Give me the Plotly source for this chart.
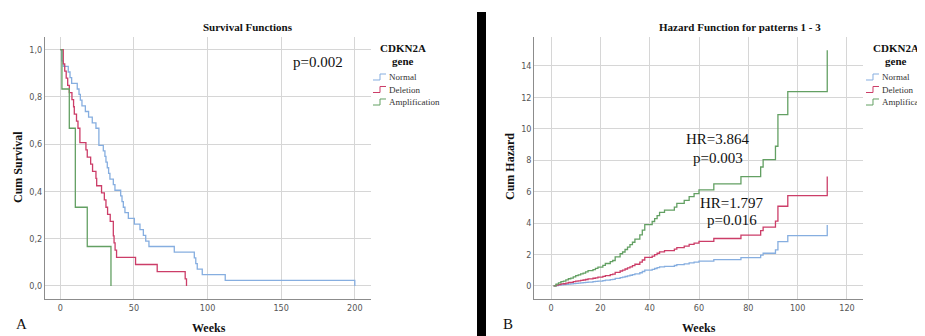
import plotly.graph_objects as go

# page offset of the figure (default body margin in the html page)
OFF = 8
W, H = 925 - OFF, 336 - OFF

# ---------------- Panel A: Kaplan-Meier survival (weeks, cum survival) ----------------
normal_weeks = [0, 1.1, 2.0, 5.4, 6.6, 7.7, 11.5, 12.7, 13.6, 14.7, 17.0, 19.2, 21.7, 24.2, 26.2,
                29.2, 30.3, 31.0, 31.9, 32.8, 33.7, 36.0, 37.1, 41.0, 41.9, 42.8, 43.9, 46.2, 50.3,
                54.1, 56.4, 58.0, 60.2, 77.4, 91.0, 92.0, 93.0, 96.4, 112.0, 200.0]
normal_surv = [1.0, 0.952, 0.929, 0.905, 0.881, 0.857, 0.833, 0.810, 0.786, 0.762, 0.738, 0.714, 0.690,
               0.667, 0.595, 0.571, 0.548, 0.524, 0.500, 0.476, 0.452, 0.429, 0.405, 0.381, 0.357,
               0.333, 0.310, 0.286, 0.262, 0.238, 0.214, 0.190, 0.167, 0.143, 0.119, 0.095, 0.071,
               0.048, 0.024, 0.0]

deletion_weeks = [0, 2.0, 3.0, 4.0, 5.0, 6.1, 7.9, 9.0, 9.5, 11.0, 12.0, 13.3, 17.4, 18.3, 20.6,
                  21.9, 24.2, 24.7, 28.0, 29.9, 31.0, 32.1, 33.9, 36.0, 36.5, 37.2, 38.2, 51.1,
                  65.8, 84.8, 85.7]
deletion_surv = [1.0, 0.939, 0.909, 0.879, 0.848, 0.818, 0.788, 0.758, 0.727, 0.697, 0.667, 0.606,
                 0.576, 0.545, 0.515, 0.485, 0.455, 0.424, 0.394, 0.364, 0.333, 0.303, 0.273,
                 0.212, 0.182, 0.152, 0.121, 0.091, 0.061, 0.030, 0.0]

amplif_weeks = [0, 1.1, 6.1, 10.2, 18.3, 34.4]
amplif_surv = [1.0, 0.833, 0.667, 0.333, 0.167, 0.0]

surv_xticks = [0, 50, 100, 150, 200]
surv_yticks = [0.0, 0.2, 0.4, 0.6, 0.8, 1.0]
surv_yticklabels = ["0,0", "0,2", "0,4", "0,6", "0,8", "1,0"]

# ---------------- Panel B: cumulative hazard (weeks, cum hazard) ----------------
haz_weeks = [1, 2, 3, 4, 5, 6, 7, 8, 9, 10, 11, 12, 13, 14, 15, 17, 18, 19, 21, 22, 24, 25, 26,
             28, 29, 30, 31, 32, 33, 34, 36, 37, 38, 41, 42, 43, 44, 46, 50, 51, 54, 56, 58, 60,
             66, 77, 85, 86, 91, 92, 96, 112]
haz_normal = [0, 0.03, 0.05, 0.07, 0.08, 0.10, 0.12, 0.13, 0.15, 0.17, 0.18, 0.20, 0.21, 0.23, 0.25,
              0.27, 0.29, 0.31, 0.34, 0.37, 0.40, 0.42, 0.48, 0.53, 0.56,
              0.60, 0.64, 0.68, 0.72, 0.77, 0.84, 0.92, 1.01,
              1.06, 1.11, 1.16, 1.21, 1.25, 1.30, 1.36, 1.41, 1.47, 1.52, 1.58, 1.68, 1.80, 1.96,
              2.08, 2.30, 2.82, 3.20, 3.88]
haz_deletion = [0, 0.05, 0.09, 0.13, 0.14, 0.18, 0.22, 0.23, 0.27, 0.31, 0.32, 0.36, 0.38, 0.41, 0.45,
                0.49, 0.52, 0.56, 0.61, 0.66, 0.72, 0.75, 0.86, 0.95, 1.01,
                1.08, 1.15, 1.22, 1.29, 1.38, 1.51, 1.65, 1.82,
                1.90, 1.99, 2.08, 2.17, 2.25, 2.34, 2.44, 2.53, 2.64, 2.73, 2.84, 3.02, 3.23, 3.52,
                3.74, 4.13, 5.07, 5.75, 6.97]
haz_amplif = [0, 0.12, 0.19, 0.27, 0.31, 0.39, 0.46, 0.50, 0.58, 0.66, 0.70, 0.77, 0.81, 0.89, 0.97,
              1.04, 1.12, 1.20, 1.31, 1.43, 1.55, 1.62, 1.85, 2.05, 2.16,
              2.32, 2.47, 2.63, 2.78, 2.98, 3.25, 3.55, 3.90,
              4.10, 4.29, 4.48, 4.68, 4.83, 5.02, 5.26, 5.45, 5.68, 5.87, 6.11, 6.49, 6.96, 7.57,
              8.04, 8.89, 10.90, 12.36, 14.99]

haz_xticks = [0, 20, 40, 60, 80, 100, 120]
haz_yticks = [0, 2, 4, 6, 8, 10, 12, 14]

group_names = ["Normal", "Deletion", "Amplification"]
group_colors = ["#86aee0", "#cc3d68", "#63a063"]

SERIF = "Liberation Serif, Times New Roman, serif"
NARROW = "Liberation Sans Narrow, Arial Narrow, DejaVu Sans Condensed, sans-serif"


def px(x):
    # page x pixel -> paper coordinate
    return (x - OFF) / W


def py(y):
    # page y pixel -> paper coordinate
    return 1 - (y - OFF) / H


fig = go.Figure()

surv_sets = [(normal_weeks, normal_surv), (deletion_weeks, deletion_surv), (amplif_weeks, amplif_surv)]
for (wk, s), name, col in zip(surv_sets, group_names, group_colors):
    fig.add_trace(go.Scatter(x=wk, y=s, mode="lines", line=dict(color=col, width=1.3, shape="hv"),
                             name=name, showlegend=False, xaxis="x", yaxis="y"))

haz_sets = [haz_normal, haz_deletion, haz_amplif]
for hz, name, col in zip(haz_sets, group_names, group_colors):
    fig.add_trace(go.Scatter(x=haz_weeks, y=hz, mode="lines", line=dict(color=col, width=1.3, shape="hv"),
                             name=name, showlegend=False, xaxis="x2", yaxis="y2"))

axis_common = dict(showline=True, linecolor="#8c8c8c", linewidth=1, showgrid=True, gridcolor="#d6d6d6",
                   gridwidth=1, zeroline=False, ticks="", tickfont=dict(family=NARROW, size=9, color="#555555"),
                   fixedrange=True)

y_top, y_bot = 37, 299
fig.update_layout(
    width=W, height=H,
    margin=dict(l=0, r=0, t=0, b=0),
    paper_bgcolor="white", plot_bgcolor="white",
    showlegend=False,
    xaxis=dict(domain=[px(45), px(371)], range=[-10.4, 211], tickvals=surv_xticks, anchor="y", **axis_common),
    yaxis=dict(domain=[py(y_bot), py(y_top)], range=[-0.055, 1.053], tickvals=surv_yticks,
               ticktext=surv_yticklabels, anchor="x", **axis_common),
    xaxis2=dict(domain=[px(534.3), px(863)], range=[-6.8, 126.5], tickvals=haz_xticks, anchor="y2", **axis_common),
    yaxis2=dict(domain=[py(y_bot), py(y_top)], range=[-0.83, 15.84], tickvals=haz_yticks, anchor="x2", **axis_common),
)

ann = []


def text(x, y, t, size, bold=False, angle=0, xanchor="center", color="#111111"):
    ann.append(dict(x=px(x), y=py(y), xref="paper", yref="paper", text=("<b>%s</b>" % t) if bold else t,
                    showarrow=False, font=dict(family=SERIF, size=size, color=color), textangle=angle,
                    xanchor=xanchor, yanchor="middle"))


# Panel A texts
text(248, 27, "Survival Functions", 11, bold=True)
text(18, 167, "Cum Survival", 12, bold=True, angle=-90)
text(208.5, 328, "Weeks", 12, bold=True)
text(21, 324, "A", 15)
text(318, 62, "p=0.002", 15)

# Panel B texts
text(740, 27, "Hazard Function for patterns 1 - 3", 11, bold=True)
text(510, 167, "Cum Hazard", 12, bold=True, angle=-90)
text(699, 328, "Weeks", 12, bold=True)
text(508, 324, "B", 15)
text(718, 139, "HR=3.864", 15)
text(718, 158, "p=0.003", 15)
text(732, 203, "HR=1.797", 15)
text(732, 220, "p=0.016", 15)

# Legends (manual, SPSS-style)
shapes = []
for lx_title, lx_glyph in [(403, 373), (896, 866)]:
    text(lx_title, 48, "CDKN2A", 11, bold=True)
    text(lx_title, 61, "gene", 11, bold=True)
    for i, (name, col) in enumerate(zip(group_names, group_colors)):
        yc = 77 + i * 12.5
        text(lx_glyph + 14, yc, name, 9, xanchor="left", color="#333333")
        x0, x1, x2 = lx_glyph, lx_glyph + 7, lx_glyph + 13
        y_lo, y_hi = yc + 3, yc - 3
        path = "M %f,%f L %f,%f L %f,%f L %f,%f" % (px(x0), py(y_lo), px(x1), py(y_lo), px(x1), py(y_hi),
                                                    px(x2), py(y_hi))
        shapes.append(dict(type="path", path=path, xref="paper", yref="paper",
                           line=dict(color=col, width=1)))

# black divider bar between the panels
shapes.append(dict(type="rect", xref="paper", yref="paper", x0=px(477), x1=px(486), y0=0, y1=py(12),
                   fillcolor="black", line=dict(width=0)))

fig.update_layout(annotations=ann, shapes=shapes)

fig.write_html("out.html")
